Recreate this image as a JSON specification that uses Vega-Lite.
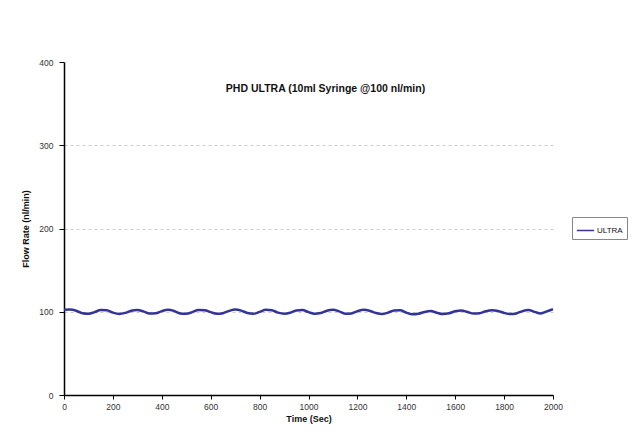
{
  "$schema": "https://vega.github.io/schema/vega-lite/v6.json",
  "width": 489,
  "height": 333,
  "autosize": {"type": "none"},
  "padding": {"left": 64, "top": 62, "right": 79, "bottom": 49},
  "background": "white",
  "config": {
    "font": "Liberation Sans",
    "view": {"stroke": null}
  },
  "title": {
    "text": "PHD ULTRA (10ml Syringe @100 nl/min)",
    "anchor": "middle",
    "fontSize": 10.5,
    "fontWeight": "bold",
    "color": "#111",
    "offset": 0,
    "dx": 17,
    "dy": 36
  },
  "data": {
    "values": [
      {"t": 0, "rate": 102.3, "series": "ULTRA"},
      {"t": 25, "rate": 102.6, "series": "ULTRA"},
      {"t": 50, "rate": 101.2, "series": "ULTRA"},
      {"t": 75, "rate": 98.2, "series": "ULTRA"},
      {"t": 100, "rate": 97.6, "series": "ULTRA"},
      {"t": 125, "rate": 99.5, "series": "ULTRA"},
      {"t": 150, "rate": 102.0, "series": "ULTRA"},
      {"t": 175, "rate": 101.8, "series": "ULTRA"},
      {"t": 200, "rate": 99.0, "series": "ULTRA"},
      {"t": 225, "rate": 97.4, "series": "ULTRA"},
      {"t": 250, "rate": 98.6, "series": "ULTRA"},
      {"t": 275, "rate": 101.3, "series": "ULTRA"},
      {"t": 300, "rate": 102.2, "series": "ULTRA"},
      {"t": 325, "rate": 100.4, "series": "ULTRA"},
      {"t": 350, "rate": 97.8, "series": "ULTRA"},
      {"t": 375, "rate": 98.2, "series": "ULTRA"},
      {"t": 400, "rate": 100.8, "series": "ULTRA"},
      {"t": 425, "rate": 102.4, "series": "ULTRA"},
      {"t": 450, "rate": 101.0, "series": "ULTRA"},
      {"t": 475, "rate": 98.0, "series": "ULTRA"},
      {"t": 500, "rate": 97.6, "series": "ULTRA"},
      {"t": 525, "rate": 99.6, "series": "ULTRA"},
      {"t": 550, "rate": 102.0, "series": "ULTRA"},
      {"t": 575, "rate": 101.9, "series": "ULTRA"},
      {"t": 600, "rate": 99.5, "series": "ULTRA"},
      {"t": 625, "rate": 97.5, "series": "ULTRA"},
      {"t": 650, "rate": 98.3, "series": "ULTRA"},
      {"t": 675, "rate": 101.0, "series": "ULTRA"},
      {"t": 700, "rate": 102.6, "series": "ULTRA"},
      {"t": 725, "rate": 101.4, "series": "ULTRA"},
      {"t": 750, "rate": 98.5, "series": "ULTRA"},
      {"t": 775, "rate": 97.6, "series": "ULTRA"},
      {"t": 800, "rate": 99.8, "series": "ULTRA"},
      {"t": 825, "rate": 102.3, "series": "ULTRA"},
      {"t": 850, "rate": 101.8, "series": "ULTRA"},
      {"t": 875, "rate": 99.0, "series": "ULTRA"},
      {"t": 900, "rate": 97.7, "series": "ULTRA"},
      {"t": 925, "rate": 98.8, "series": "ULTRA"},
      {"t": 950, "rate": 101.6, "series": "ULTRA"},
      {"t": 975, "rate": 102.0, "series": "ULTRA"},
      {"t": 1000, "rate": 99.6, "series": "ULTRA"},
      {"t": 1025, "rate": 97.5, "series": "ULTRA"},
      {"t": 1050, "rate": 98.4, "series": "ULTRA"},
      {"t": 1075, "rate": 101.2, "series": "ULTRA"},
      {"t": 1100, "rate": 102.3, "series": "ULTRA"},
      {"t": 1125, "rate": 100.5, "series": "ULTRA"},
      {"t": 1150, "rate": 97.7, "series": "ULTRA"},
      {"t": 1175, "rate": 98.0, "series": "ULTRA"},
      {"t": 1200, "rate": 100.6, "series": "ULTRA"},
      {"t": 1225, "rate": 102.4, "series": "ULTRA"},
      {"t": 1250, "rate": 101.3, "series": "ULTRA"},
      {"t": 1275, "rate": 98.6, "series": "ULTRA"},
      {"t": 1300, "rate": 97.2, "series": "ULTRA"},
      {"t": 1325, "rate": 98.9, "series": "ULTRA"},
      {"t": 1350, "rate": 101.4, "series": "ULTRA"},
      {"t": 1375, "rate": 101.7, "series": "ULTRA"},
      {"t": 1400, "rate": 98.9, "series": "ULTRA"},
      {"t": 1425, "rate": 97.0, "series": "ULTRA"},
      {"t": 1450, "rate": 97.6, "series": "ULTRA"},
      {"t": 1475, "rate": 99.8, "series": "ULTRA"},
      {"t": 1500, "rate": 100.8, "series": "ULTRA"},
      {"t": 1525, "rate": 98.8, "series": "ULTRA"},
      {"t": 1550, "rate": 97.3, "series": "ULTRA"},
      {"t": 1575, "rate": 98.2, "series": "ULTRA"},
      {"t": 1600, "rate": 100.5, "series": "ULTRA"},
      {"t": 1625, "rate": 101.6, "series": "ULTRA"},
      {"t": 1650, "rate": 99.8, "series": "ULTRA"},
      {"t": 1675, "rate": 97.9, "series": "ULTRA"},
      {"t": 1700, "rate": 98.3, "series": "ULTRA"},
      {"t": 1725, "rate": 100.6, "series": "ULTRA"},
      {"t": 1750, "rate": 101.8, "series": "ULTRA"},
      {"t": 1775, "rate": 101.0, "series": "ULTRA"},
      {"t": 1800, "rate": 98.6, "series": "ULTRA"},
      {"t": 1825, "rate": 97.2, "series": "ULTRA"},
      {"t": 1850, "rate": 98.0, "series": "ULTRA"},
      {"t": 1875, "rate": 100.8, "series": "ULTRA"},
      {"t": 1900, "rate": 102.0, "series": "ULTRA"},
      {"t": 1925, "rate": 99.8, "series": "ULTRA"},
      {"t": 1950, "rate": 97.9, "series": "ULTRA"},
      {"t": 1975, "rate": 100.4, "series": "ULTRA"},
      {"t": 2000, "rate": 103.2, "series": "ULTRA"}
    ]
  },
  "mark": {"type": "line", "strokeWidth": 2.5, "interpolate": "monotone"},
  "encoding": {
    "x": {
      "field": "t",
      "type": "quantitative",
      "scale": {"domain": [0, 2000], "nice": false},
      "axis": {
        "title": "Time (Sec)",
        "format": "d",
        "values": [0, 200, 400, 600, 800, 1000, 1200, 1400, 1600, 1800, 2000],
        "grid": false,
        "domainColor": "#000",
        "domainWidth": 1.5,
        "tickColor": "#000",
        "tickSize": 4,
        "labelFontSize": 8.5,
        "labelColor": "#333",
        "labelPadding": 3,
        "labelFlush": false,
        "titleFontSize": 9,
        "titleFontWeight": "bold",
        "titleColor": "#111",
        "titlePadding": 4
      }
    },
    "y": {
      "field": "rate",
      "type": "quantitative",
      "scale": {"domain": [0, 400], "nice": false},
      "axis": {
        "title": "Flow Rate (nl/min)",
        "values": [0, 100, 200, 300, 400],
        "grid": true,
        "gridColor": "#cccccc",
        "gridDash": [3, 3],
        "gridWidth": 1,
        "gridOpacity": {"condition": {"test": "datum.value >= 400", "value": 0}, "value": 1},
        "domainColor": "#000",
        "domainWidth": 1.5,
        "tickColor": "#000",
        "tickSize": 5,
        "labelFontSize": 8.5,
        "labelColor": "#333",
        "labelPadding": 6,
        "labelFlush": false,
        "titleFontSize": 9,
        "titleFontWeight": "bold",
        "titleColor": "#111",
        "titlePadding": 8
      }
    },
    "color": {
      "field": "series",
      "type": "nominal",
      "scale": {"range": ["#333399"]},
      "legend": {
        "title": null,
        "orient": "none",
        "legendX": 508,
        "legendY": 155,
        "symbolType": "stroke",
        "symbolSize": 300,
        "symbolStrokeWidth": 1.5,
        "labelFontSize": 8,
        "labelColor": "#111",
        "labelOffset": 2,
        "strokeColor": "#888",
        "padding": 4,
        "fillColor": "white"
      }
    }
  }
}
